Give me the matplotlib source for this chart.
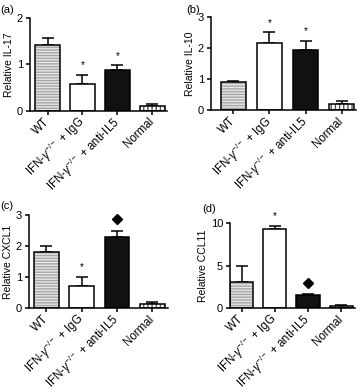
import matplotlib.pyplot as plt
import numpy as np

plt.rcParams['font.family'] = ['Liberation Sans', 'DejaVu Sans']
plt.rcParams['mathtext.fontset'] = 'custom'
plt.rcParams['mathtext.rm'] = 'Liberation Sans'
plt.rcParams['mathtext.it'] = 'Liberation Sans:italic'

groups = ['WT', 'IFN-$\\gamma^{-/-}$ + IgG', 'IFN-$\\gamma^{-/-}$ + anti-IL5', 'Normal']

il17 = [1.42, 0.57, 0.88, 0.10]
il17_err = [0.15, 0.20, 0.10, 0.05]
il10 = [0.92, 2.15, 1.95, 0.20]
il10_err = [0.03, 0.35, 0.28, 0.10]
cxcl1 = [1.80, 0.70, 2.30, 0.12]
cxcl1_err = [0.20, 0.30, 0.20, 0.08]
ccl11 = [3.1, 9.3, 1.5, 0.25]
ccl11_err = [1.9, 0.4, 0.2, 0.15]

# significance marks per bar ('' = none)
marks_a = ['', '*', '*', '']
marks_b = ['', '*', '*', '']
marks_c = ['', '*', 'D', '']
marks_d = ['', '*', 'D', '']

panels = [
    ('(a)', 'Relative IL-17', il17, il17_err, marks_a, [0, 1, 2], 2,
     [0.083, 0.717, 0.377, 0.237], (-0.5, 3.42), (0.002, 0.962)),
    ('(b)', 'Relative IL-10', il10, il10_err, marks_b, [0, 1, 2, 3], 3,
     [0.581, 0.719, 0.400, 0.238], (-0.62, 3.4), (0.512, 0.962)),
    ('(c)', 'Relative CXCL1', cxcl1, cxcl1_err, marks_c, [0, 1, 2, 3], 3,
     [0.080, 0.214, 0.383, 0.237], (-0.49, 3.45), (0.002, 0.462)),
    ('(d)', 'Relative CCL11', ccl11, ccl11_err, marks_d, [0, 5, 10], 10,
     [0.634, 0.214, 0.344, 0.217], (-0.35, 3.42), (0.558, 0.455)),
]

fig = plt.figure(figsize=(3.63, 3.92), dpi=100)

for label, ylab, vals, errs, marks, yt, ymax, pos, xl, lpos in panels:
    ax = fig.add_axes(pos)
    x = np.arange(len(vals))
    w = 0.7
    # WT: gray with horizontal stripes
    ax.bar(x[0], vals[0], w, color='#a6a6a6', edgecolor='#e6e6e6', hatch='------', lw=0, zorder=2)
    # IgG: white, anti-IL5: black
    ax.bar(x[1], vals[1], w, color='white', lw=0, zorder=2)
    ax.bar(x[2], vals[2], w, color='#111111', lw=0, zorder=2)
    # Normal: vertical stripes
    ax.bar(x[3], vals[3], w, color='white', edgecolor='#555555', hatch='||||', lw=0, zorder=2)
    ax.bar(x, vals, w, fill=False, edgecolor='black', lw=1.1, zorder=3)
    ax.errorbar(x, vals, yerr=[np.zeros(len(vals)), errs], fmt='none',
                ecolor='black', elinewidth=1.1, capsize=4, capthick=1.1, zorder=1)
    for i, m in enumerate(marks):
        top = vals[i] + errs[i]
        if m == '*':
            ax.text(x[i], top + ymax * 0.05, '*', ha='center', va='bottom', fontsize=7)
        elif m == 'D':
            ax.plot(x[i], top + ymax * 0.13, marker='D', ms=5.5, color='black',
                    ls='none', clip_on=False)
    ax.set_ylim(0, ymax)
    ax.set_xlim(*xl)
    ax.set_yticks(yt)
    ax.set_xticks(x)
    ax.set_xticklabels(groups, rotation=45, ha='right', va='center',
                       rotation_mode='anchor', fontsize=8.3)
    ax.tick_params(axis='y', labelsize=8, length=3, width=1.1, pad=2)
    ax.tick_params(axis='x', length=3, width=1.1, pad=3.5)
    ax.set_ylabel(ylab, fontsize=7.5, labelpad=2)
    for s in ['top', 'right']:
        ax.spines[s].set_visible(False)
    for s in ['left', 'bottom']:
        ax.spines[s].set_linewidth(1.1)
    ax.spines['left'].set_bounds(0, ymax)
    fig.text(lpos[0], lpos[1], label, fontsize=8, ha='left', va='bottom')

fig.savefig('out.png', dpi=100)
